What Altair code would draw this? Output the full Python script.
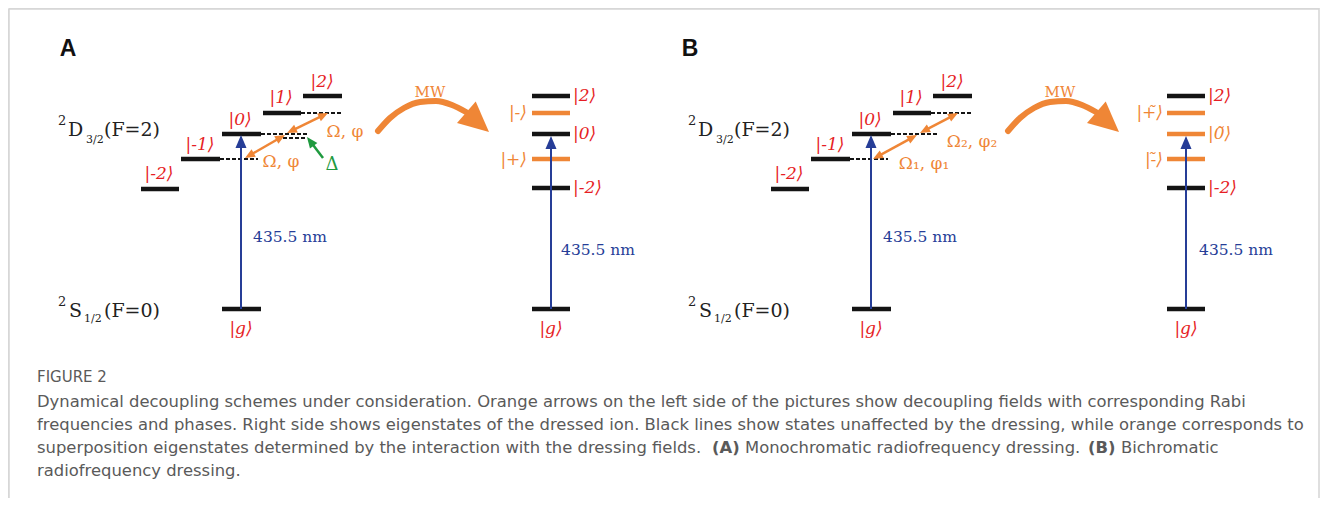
import math
import altair as alt
import pandas as pd

RED = "#e61e25"
ORANGE = "#ef8636"
BLUE = "#263d97"
GREEN = "#1f9a3f"
BLACK = "#141414"
INK = "#222222"
GRAY = "#5a5a5a"

# ---------------- energy levels (solid bars) ----------------
level_x1 = [141, 181, 222, 263, 303, 222,
            532, 532, 532, 532, 532, 532,
            771, 811, 852, 893, 933, 852,
            1167, 1167, 1167, 1167, 1167, 1167]
level_x2 = [179, 220, 261, 301, 342, 261,
            570, 570, 570, 570, 570, 570,
            809, 850, 891, 931, 972, 891,
            1205, 1205, 1205, 1205, 1205, 1205]
level_y = [189, 159, 134, 113, 96, 309,
           96, 113, 134, 159, 188, 309,
           189, 159, 134, 113, 96, 309,
           96, 113, 134, 159, 188, 309]
level_c = [BLACK] * 6 + [BLACK, ORANGE, BLACK, ORANGE, BLACK, BLACK] + \
          [BLACK] * 6 + [BLACK, ORANGE, ORANGE, ORANGE, BLACK, BLACK]

# ---------------- dashed (virtual) levels ----------------
dash_x1 = [220, 261, 283, 301, 850, 891, 931]
dash_x2 = [258, 308, 306, 342, 888, 938, 972]
dash_y = [159, 134, 138, 113, 159, 134, 113]

# ---------------- straight arrows: tail -> tip ----------------
arr_tx = [241, 551, 871, 1186, 245, 287, 873, 920, 323]
arr_ty = [309, 309, 309, 309, 158, 133, 159, 133, 158]
arr_hx = [241, 551, 871, 1186, 285, 328, 917, 958, 307]
arr_hy = [135, 136, 135, 136, 135, 113, 135, 113, 137]
arr_col = [BLUE] * 4 + [ORANGE] * 4 + [GREEN]
arr_w = [2, 2, 2, 2, 2.5, 2.5, 2.5, 2.5, 2.5]
arr_head = [13, 13, 13, 13, 10, 10, 10, 10, 11]
arr_double = [False] * 4 + [True] * 4 + [False]

# ---------------- MW curved arrows ----------------
mw_x = [[378, 390, 404, 420, 436, 452, 466],
        [1008, 1020, 1034, 1050, 1066, 1082, 1096]]
mw_y = [131, 118, 108, 102, 101, 105, 112]
mw_tip_x = [489, 1119]
mw_tip_y = [132, 132]
mw_base_x = [466, 1096]
mw_base_y = [112, 112]
mw_head = 30

# ---------------- ket labels ----------------
ket_text = ["|-2⟩", "|-1⟩", "|0⟩", "|1⟩", "|2⟩", "|g⟩",
            "|g⟩",
            "|-2⟩", "|-1⟩", "|0⟩", "|1⟩", "|2⟩", "|g⟩",
            "|g⟩"]
ket_x = [159, 200, 240, 281, 322, 241, 551, 789, 830, 870, 911, 952, 871, 1186]
ket_y = [174, 145, 120, 98, 82, 329, 329, 174, 145, 120, 98, 82, 329, 329]
ket_c = [RED] * 14

# right-side labels (left aligned, after the bars)
rk_text = ["|2⟩", "|0⟩", "|-2⟩", "|2⟩", "|0\u0303⟩", "|-2⟩"]
rk_x = [573, 573, 573, 1208, 1208, 1208]
rk_y = [96, 134, 188, 96, 134, 188]
rk_c = [RED, RED, RED, RED, ORANGE, RED]

# left-side labels (right aligned, before the bars)
lk_text = ["|-⟩", "|+⟩", "|+\u0303⟩", "|-\u0303⟩"]
lk_x = [527, 527, 1163, 1163]
lk_y = [113, 160, 113, 160]
lk_c = [ORANGE] * 4

# ---------------- term symbols (left aligned) ----------------
term_text = ["2", "D", "3/2", "(F=2)", "2", "S", "1/2", "(F=0)",
             "2", "D", "3/2", "(F=2)", "2", "S", "1/2", "(F=0)"]
term_x = [58, 68, 86, 104, 58, 69, 84, 104,
          688, 698, 716, 734, 688, 699, 714, 734]
term_y = [121, 130, 140, 130, 302, 311, 319, 311,
          121, 130, 140, 130, 302, 311, 319, 311]
term_fs = [13, 19, 11, 19, 13, 19, 11, 19,
           13, 19, 11, 19, 13, 19, 11, 19]

# ---------------- other serif labels (centered) ----------------
lab_text = ["MW", "MW", "435.5 nm", "435.5 nm", "435.5 nm", "435.5 nm",
            "Ω, φ", "Ω, φ", "Ω₂, φ₂", "Ω₁, φ₁", "Δ"]
lab_x = [430, 1060, 290, 598, 920, 1236, 345, 281, 972, 924, 332]
lab_y = [92, 92, 237, 250, 237, 250, 132, 162, 142, 164, 165]
lab_c = [ORANGE, ORANGE, BLUE, BLUE, BLUE, BLUE, ORANGE, ORANGE, ORANGE, ORANGE, GREEN]
lab_fs = [15, 15, 15.5, 15.5, 15.5, 15.5, 17, 17, 17, 17, 18]

# ---------------- panel letters ----------------
pan_text = ["A", "B"]
pan_x = [68, 690]
pan_y = [49, 49]

# ---------------- caption ----------------
fig_text = ["FIGURE 2"]
fig_x = [37]
fig_y = [377]
cap_text = [
    "Dynamical decoupling schemes under consideration. Orange arrows on the left side of the pictures show decoupling fields with corresponding Rabi",
    "frequencies and phases. Right side shows eigenstates of the dressed ion. Black lines show states unaffected by the dressing, while orange corresponds to",
    "superposition eigenstates determined by the interaction with the dressing fields.",
    "Monochromatic radiofrequency dressing.",
    "Bichromatic",
    "radiofrequency dressing.",
]
cap_x = [37, 37, 37, 745, 1121, 37]
cap_y = [402, 425, 448, 448, 448, 471]
capb_text = ["(A)", "(B)"]
capb_x = [712, 1088]
capb_y = [448, 448]

# ---------------- border ----------------
bord_x1 = [9, 9, 1319]
bord_x2 = [1319, 9, 1319]
bord_y1 = [9, 9, 9]
bord_y2 = [9, 498, 498]

# =====================================================================
xs = alt.Scale(domain=[8, 1320], nice=False, zero=False)
ys = alt.Scale(domain=[8, 498], nice=False, zero=False, reverse=True)


def X(f):
    return alt.X(f, type="quantitative", scale=xs, axis=None)


def Y(f):
    return alt.Y(f, type="quantitative", scale=ys, axis=None)


def head_rows(tipx, tipy, tailx, taily, L, col):
    dx, dy = tipx - tailx, tipy - taily
    n = math.hypot(dx, dy)
    ux, uy = dx / n, dy / n
    cx, cy = tipx - ux * L / 2, tipy - uy * L / 2
    ang = math.degrees(math.atan2(ux, -uy)) % 360
    return dict(x=cx, y=cy, ang=ang, sz=L * L, c=col)


bord_df = pd.DataFrame(dict(x=bord_x1, x2=bord_x2, y=bord_y1, y2=bord_y2))
border = alt.Chart(bord_df).mark_rule(color="#d4d4d4", strokeWidth=1.5).encode(
    x=X("x"), x2="x2", y=Y("y"), y2="y2")

lev_df = pd.DataFrame(dict(x=level_x1, x2=level_x2, y=level_y, c=level_c))
levels = alt.Chart(lev_df).mark_rule(strokeWidth=4.3).encode(
    x=X("x"), x2="x2", y=Y("y"), color=alt.Color("c:N", scale=None))

dash_df = pd.DataFrame(dict(x=dash_x1, x2=dash_x2, y=dash_y))
dashes = alt.Chart(dash_df).mark_rule(strokeWidth=1.8, strokeDash=[4, 2], color=BLACK).encode(
    x=X("x"), x2="x2", y=Y("y"))

shaft_rows, head_list = [], []
for i in range(len(arr_tx)):
    tx, ty, hx, hy, L = arr_tx[i], arr_ty[i], arr_hx[i], arr_hy[i], arr_head[i]
    n = math.hypot(hx - tx, hy - ty)
    ux, uy = (hx - tx) / n, (hy - ty) / n
    sx2, sy2 = hx - ux * L * 0.6, hy - uy * L * 0.6
    sx1, sy1 = tx, ty
    head_list.append(head_rows(hx, hy, tx, ty, L, arr_col[i]))
    if arr_double[i]:
        sx1, sy1 = tx + ux * L * 0.6, ty + uy * L * 0.6
        head_list.append(head_rows(tx, ty, hx, hy, L, arr_col[i]))
    shaft_rows.append(dict(x=sx1, y=sy1, x2=sx2, y2=sy2, c=arr_col[i], w=arr_w[i]))

shaft_df = pd.DataFrame(shaft_rows)
shafts = alt.Chart(shaft_df).mark_rule().encode(
    x=X("x"), x2="x2", y=Y("y"), y2="y2",
    color=alt.Color("c:N", scale=None), strokeWidth=alt.StrokeWidth("w:Q", scale=None))

heads_df = pd.DataFrame(head_list)
heads = alt.Chart(heads_df).mark_point(
    shape="M0,-1L0.85,1L-0.85,1Z", filled=True, opacity=1, strokeWidth=0).encode(
    x=X("x"), y=Y("y"), angle=alt.Angle("ang:Q", scale=None),
    size=alt.Size("sz:Q", scale=None), color=alt.Color("c:N", scale=None))

mw_rows = []
for k in range(2):
    for j in range(len(mw_y)):
        mw_rows.append(dict(x=mw_x[k][j], y=mw_y[j], g=k, o=j))
mw_df = pd.DataFrame(mw_rows)
mw_line = alt.Chart(mw_df).mark_line(
    color=ORANGE, strokeWidth=6, strokeCap="round", interpolate="monotone").encode(
    x=X("x"), y=Y("y"), detail="g:N", order="o:Q")
mw_heads_df = pd.DataFrame([head_rows(mw_tip_x[k], mw_tip_y[k], mw_base_x[k], mw_base_y[k],
                                      mw_head, ORANGE) for k in range(2)])
mw_heads = alt.Chart(mw_heads_df).mark_point(
    shape="M0,-1L0.95,1L-0.95,1Z", filled=True, opacity=1, strokeWidth=0).encode(
    x=X("x"), y=Y("y"), angle=alt.Angle("ang:Q", scale=None),
    size=alt.Size("sz:Q", scale=None), color=alt.Color("c:N", scale=None))


def ket_layer(texts, xs_, ys_, cs, align):
    df = pd.DataFrame(dict(x=xs_, y=ys_, t=texts, c=cs))
    return alt.Chart(df).mark_text(
        font="DejaVu Serif", fontStyle="italic", fontSize=17, align=align, baseline="middle").encode(
        x=X("x"), y=Y("y"), text="t:N", color=alt.Color("c:N", scale=None))


kets_c = ket_layer(ket_text, ket_x, ket_y, ket_c, "center")
kets_r = ket_layer(rk_text, rk_x, rk_y, rk_c, "left")
kets_l = ket_layer(lk_text, lk_x, lk_y, lk_c, "right")

term_df = pd.DataFrame(dict(x=term_x, y=term_y, t=term_text, fs=term_fs))
terms = alt.Chart(term_df).mark_text(
    font="DejaVu Serif", align="left", baseline="middle", color=INK).encode(
    x=X("x"), y=Y("y"), text="t:N", size=alt.Size("fs:Q", scale=None))

lab_df = pd.DataFrame(dict(x=lab_x, y=lab_y, t=lab_text, c=lab_c, fs=lab_fs))
labels = alt.Chart(lab_df).mark_text(
    font="DejaVu Serif", align="center", baseline="middle").encode(
    x=X("x"), y=Y("y"), text="t:N", size=alt.Size("fs:Q", scale=None),
    color=alt.Color("c:N", scale=None))

pan_df = pd.DataFrame(dict(x=pan_x, y=pan_y, t=pan_text))
panels = alt.Chart(pan_df).mark_text(
    font="Liberation Sans", fontWeight="bold", fontSize=23, align="center", baseline="middle",
    color="#111111").encode(x=X("x"), y=Y("y"), text="t:N")

fig_df = pd.DataFrame(dict(x=fig_x, y=fig_y, t=fig_text))
fig_label = alt.Chart(fig_df).mark_text(
    font="DejaVu Sans", fontSize=15, align="left", baseline="middle", color=GRAY).encode(
    x=X("x"), y=Y("y"), text="t:N")

cap_df = pd.DataFrame(dict(x=cap_x, y=cap_y, t=cap_text))
caption = alt.Chart(cap_df).mark_text(
    font="DejaVu Sans", fontSize=16.4, align="left", baseline="middle", color=GRAY).encode(
    x=X("x"), y=Y("y"), text="t:N")
capb_df = pd.DataFrame(dict(x=capb_x, y=capb_y, t=capb_text))
caption_b = alt.Chart(capb_df).mark_text(
    font="DejaVu Sans", fontSize=16.4, fontWeight="bold", align="left", baseline="middle",
    color=GRAY).encode(x=X("x"), y=Y("y"), text="t:N")

chart = alt.layer(
    border, dashes, levels, shafts, heads, mw_line, mw_heads,
    kets_c, kets_r, kets_l, terms, labels, panels, fig_label, caption, caption_b
).properties(
    width=1312, height=490, padding=0,
    autosize=alt.AutoSizeParams(type="none")
).configure_view(stroke=None).configure(background="white")

chart.save("out.html", embed_options={"renderer": "svg", "actions": False})
